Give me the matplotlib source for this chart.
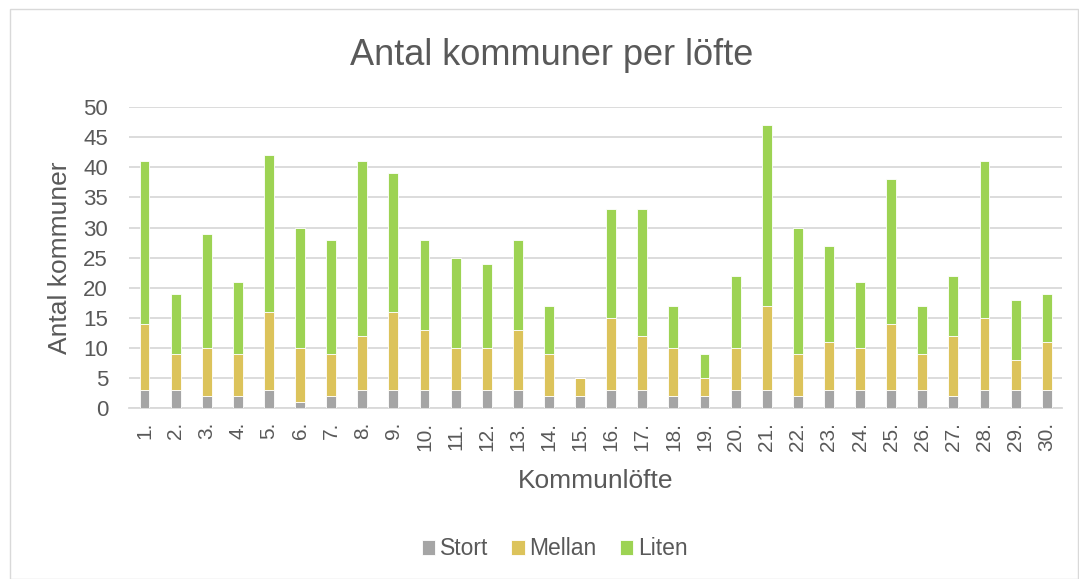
import matplotlib.pyplot as plt
import numpy as np

plt.rcParams['font.family'] = ['Liberation Sans', 'DejaVu Sans']

labels = [f"{i}." for i in range(1, 31)]
stort = [3, 3, 2, 2, 3, 1, 2, 3, 3, 3, 3, 3, 3, 2, 2, 3, 3, 2, 2, 3, 3, 2, 3, 3, 3, 3, 2, 3, 3, 3]
mellan = [11, 6, 8, 7, 13, 9, 7, 9, 13, 10, 7, 7, 10, 7, 3, 12, 9, 8, 3, 7, 14, 7, 8, 7, 11, 6, 10, 12, 5, 8]
liten = [27, 10, 19, 12, 26, 20, 19, 29, 23, 15, 15, 14, 15, 8, 0, 18, 21, 7, 4, 12, 30, 21, 16, 11, 24, 8, 10, 26, 10, 8]

text_col = '#595959'
c_stort = '#A5A5A5'
c_mellan = '#DCC35B'
c_liten = '#9DD353'

fig = plt.figure(figsize=(10.79, 5.79), dpi=100)
ax = fig.add_axes([0.1195, 0.295, 0.865, 0.52])

x = np.arange(len(labels))
w = 0.32
stort = np.array(stort)
mellan = np.array(mellan)
liten = np.array(liten)
ax.bar(x, stort, w, color=c_stort, edgecolor='white', linewidth=0.6, label='Stort', zorder=3)
ax.bar(x, mellan, w, bottom=stort, color=c_mellan, edgecolor='white', linewidth=0.6, label='Mellan', zorder=3)
ax.bar(x, liten, w, bottom=stort + mellan, color=c_liten, edgecolor='white', linewidth=0.6, label='Liten', zorder=3)

ax.set_xlim(-0.5, len(labels) - 0.5)
ax.set_ylim(0, 50)
ax.set_yticks(range(0, 51, 5))
ax.yaxis.grid(True, color='#D9D9D9', linewidth=1.3, zorder=0)
ax.set_axisbelow(True)
for s in ['top', 'right', 'left']:
    ax.spines[s].set_visible(False)
ax.spines['bottom'].set_color('#D9D9D9')
ax.spines['bottom'].set_linewidth(1.3)
ax.tick_params(axis='both', length=0, colors=text_col)
ax.tick_params(axis='y', pad=15, labelsize=16)
ax.tick_params(axis='x', pad=10, labelsize=15)
ax.set_xticks(x)
ax.set_xticklabels(labels, rotation=90)

ax.set_ylabel('Antal kommuner', fontsize=19, color=text_col, labelpad=8)
ax.set_xlabel('Kommunlöfte', fontsize=19, color=text_col, labelpad=13)
fig.text(0.511, 0.905, 'Antal kommuner per löfte', ha='center', va='center', fontsize=26, color=text_col)

fig.legend(loc='center', bbox_to_anchor=(0.514, 0.052), ncol=3, frameon=False,
           fontsize=16.5, labelcolor=text_col, handlelength=0.6, handleheight=0.6,
           handletextpad=0.2, columnspacing=1.0)

border = plt.Rectangle((0.009, 0.0), 0.99, 0.985, transform=fig.transFigure,
                       fill=False, edgecolor='#D9D9D9', linewidth=1)
fig.patches.append(border)

fig.savefig('out.png', dpi=100)
